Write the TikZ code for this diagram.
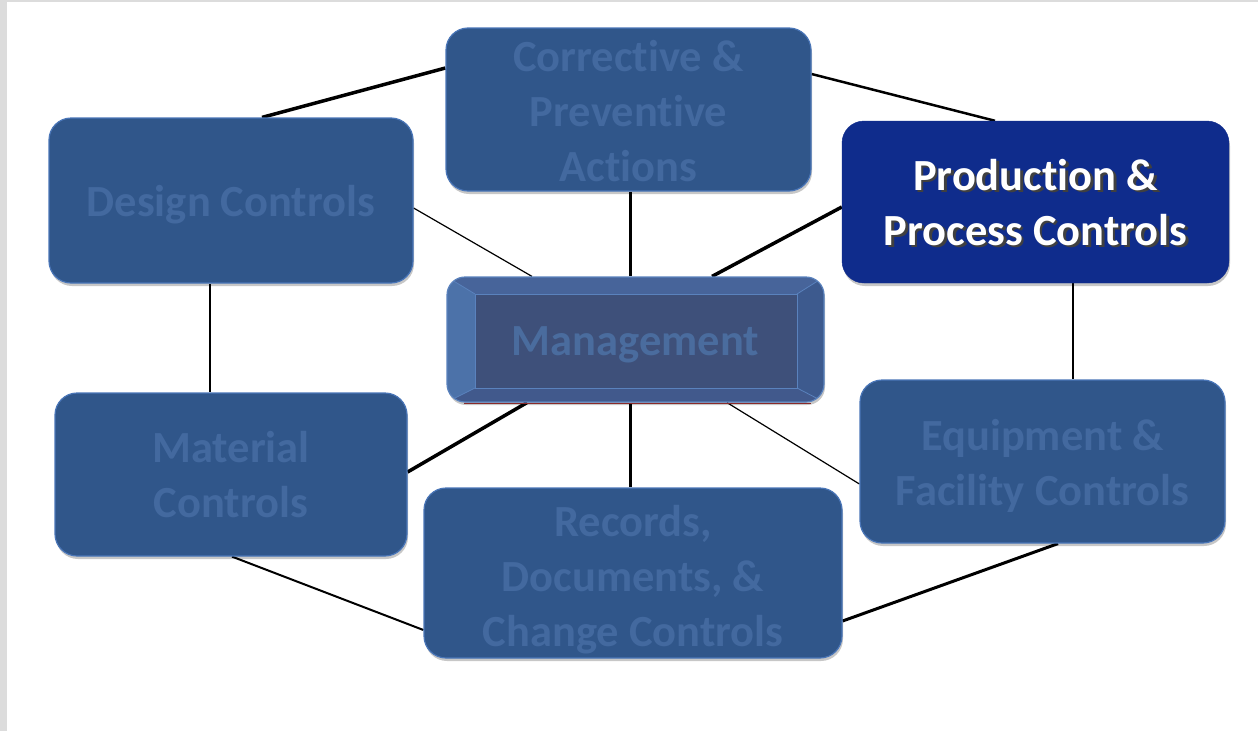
\documentclass[tikz,border=0pt]{standalone}
\usepackage{fontspec}
\setmainfont{Carlito}[Ligatures=NoCommon]
\usetikzlibrary{calc,shadows}
\pgfdeclarelayer{back}
\pgfdeclarelayer{bg}
\pgfsetlayers{back,bg,main}
\definecolor{frame}{HTML}{DCDCDC}
\definecolor{boxfill}{HTML}{30568A}
\definecolor{boxtext}{HTML}{43699F}
\definecolor{boxline}{HTML}{4A76B8}
\definecolor{prodfill}{HTML}{0F2C8C}
\definecolor{mgmtouter}{HTML}{4C72A9}
\definecolor{mgmtinner}{HTML}{3E507A}
\definecolor{mgmttop}{HTML}{47649A}
\definecolor{mgmtright}{HTML}{3D5A8E}
\definecolor{mgmtbottom}{HTML}{41598C}
\definecolor{mgmtline}{HTML}{5A82BD}
\definecolor{mgmttext}{HTML}{4A6C9E}
\definecolor{redline}{HTML}{8A2A2A}
\newcommand\shtxt[1]{\makebox[0pt][l]{\kern2.5pt\raisebox{-2.5pt}{\textcolor{black!75}{#1}}}#1}
\begin{document}
\begin{tikzpicture}[x=1pt,y=-1pt,
  boxbase/.style={rectangle, rounded corners=22pt, align=center, inner sep=0pt,
    font=\fontsize{44.5}{55}\selectfont\bfseries,
    general shadow={shadow xshift=1pt, shadow yshift=-3pt, fill=black, opacity=0.22}},
  box/.style={boxbase, fill=boxfill, draw=boxline, line width=1.2pt, text=boxtext},
  prodbox/.style={boxbase, fill=prodfill, draw=prodfill, text=white},
  link/.style={draw=black, line width=#1},
  tpos/.style={text height=#1, text depth=0pt},
]
\begin{pgfonlayer}{back}
\fill[frame] (0,0) rectangle (1258,731);
\fill[white] (7,2) rectangle (1258,731);
\end{pgfonlayer}
\useasboundingbox (0,0) rectangle (1258,731);

% nodes
\node[box, tpos=31pt, minimum width=364pt, minimum height=165pt] (design) at (231,200.5) {Design Controls};
\node[box, tpos=143pt, minimum width=365pt, minimum height=163pt] (corrective) at (628.5,109.5) {Corrective \&\\Preventive\\Actions};
\node[prodbox, tpos=86pt, minimum width=387pt, minimum height=162pt] (production) at (1035.5,202) {\shtxt{Production \&}\\\shtxt{Process Controls}};
\node[box, tpos=85pt, minimum width=352pt, minimum height=163pt] (material) at (231,474.5) {Material\\Controls};
\node[box, tpos=87pt, minimum width=365pt, minimum height=163pt] (equipment) at (1042.5,461.5) {Equipment \&\\Facility Controls};
\node[box, tpos=146pt, minimum width=418pt, minimum height=170pt] (records) at (633,573) {Records,\\Documents, \&\\Change Controls};
\node[boxbase, tpos=31pt, rounded corners=18pt, fill=mgmtouter, draw=mgmtline, line width=1.2pt, text=mgmttext,
  minimum width=377pt, minimum height=125pt,
  path picture={
    \coordinate (pnw) at (path picture bounding box.north west);
    \coordinate (pne) at (path picture bounding box.north east);
    \coordinate (psw) at (path picture bounding box.south west);
    \coordinate (pse) at (path picture bounding box.south east);
    \coordinate (inw) at ($(pnw)+(28,17)$);
    \coordinate (ine) at ($(pne)+(-27,17)$);
    \coordinate (isw) at ($(psw)+(28,-14)$);
    \coordinate (ise) at ($(pse)+(-27,-14)$);
    \begin{scope}[sharp corners]
    \fill[mgmttop] (pnw) -- (pne) -- (ine) -- (inw) -- cycle;
    \fill[mgmtright] (pne) -- (pse) -- (ise) -- (ine) -- cycle;
    \fill[mgmtbottom] (psw) -- (pse) -- (ise) -- (isw) -- cycle;
    \fill[mgmtinner] (inw) rectangle (ise);
    \draw[mgmtline, line width=0.8pt] (inw) rectangle (ise);
    \draw[mgmtline, line width=0.8pt] (pnw) -- (inw) (pne) -- (ine) (psw) -- (isw) (pse) -- (ise);
    \end{scope}
  }] (management) at (635.5,339.5) {Management};

% connectors
\begin{pgfonlayer}{bg}
\draw[link=3.5pt] ([xshift=31pt]design.north) -- ([yshift=41.5pt]corrective.west);
\draw[link=2.5pt] ([yshift=35.5pt]corrective.east) -- ([xshift=-40.5pt]production.north);
\draw[link=1.2pt] ([yshift=-7.5pt]design.east) -- ([xshift=-103.5pt]management.north);
\draw[link=3pt] ([xshift=1.5pt]corrective.south) -- ([xshift=-5.5pt]management.north);
\draw[link=3.5pt] ([yshift=-5pt]production.west) -- ([xshift=76.5pt]management.north);
\draw[link=2.5pt] ([xshift=-21pt]design.south) -- ([xshift=-21pt]material.north);
\draw[link=2.5pt] ([xshift=37.5pt]production.south) -- ([xshift=30.5pt]equipment.north);
\draw[link=3.5pt] ([xshift=-108.5pt]management.south) -- ([yshift=2.5pt]material.east);
\draw[link=3pt] ([xshift=-5.5pt]management.south) -- ([xshift=-3pt]records.north);
\draw[link=1.2pt] ([xshift=91.5pt]management.south) -- ([yshift=-22.5pt]equipment.west);
\draw[link=2pt] ([xshift=1pt]material.south) -- ([yshift=-57pt]records.west);
\draw[link=3pt] ([yshift=-48pt]records.east) -- ([xshift=15.5pt]equipment.south);
\end{pgfonlayer}
\draw[redline, line width=1.5pt] ($(management.south west)+(18,1)$) -- ($(management.south east)+(-14,1)$);
\end{tikzpicture}
\end{document}
